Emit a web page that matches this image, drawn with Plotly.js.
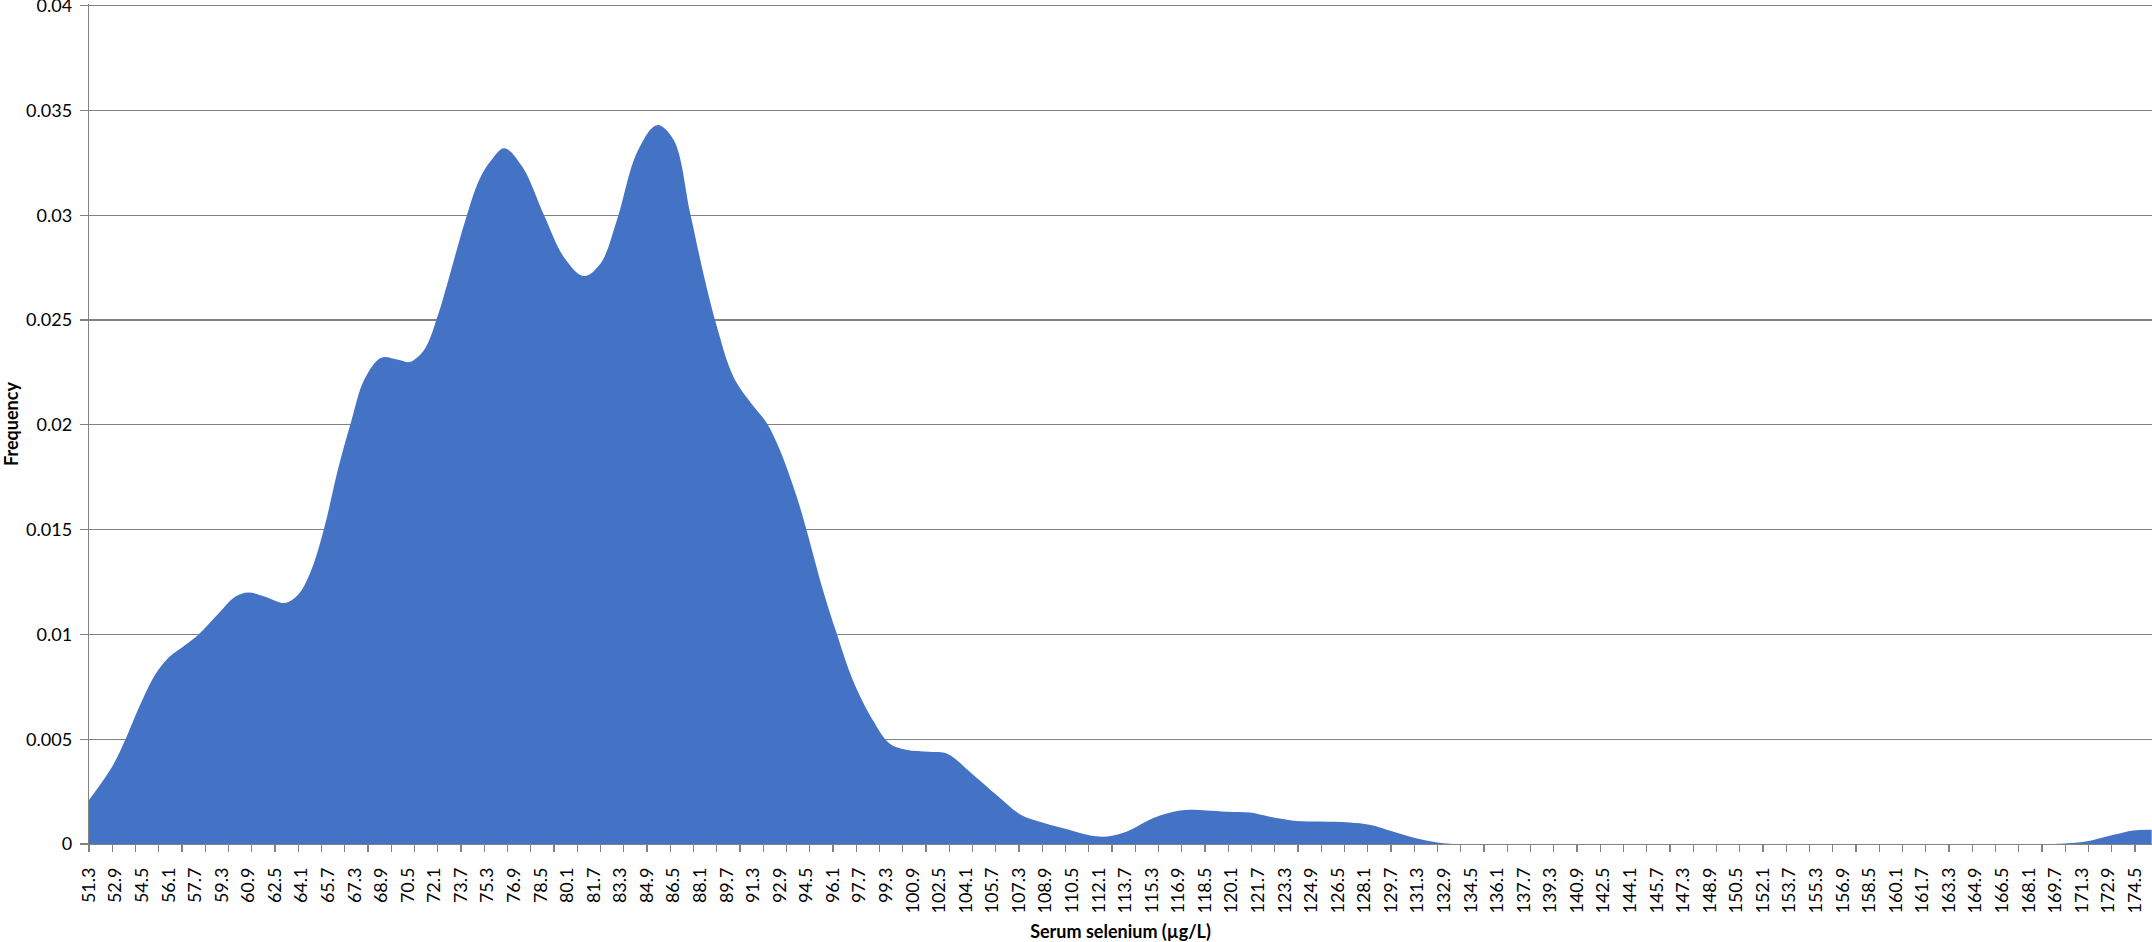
<!DOCTYPE html>
<html>
<head>
<meta charset="utf-8">
<script src="https://cdn.plot.ly/plotly-3.0.1.min.js"></script>
<style>
html,body{margin:0;padding:0;background:#fff;}
#chart{width:2152px;height:942px;}
</style>
</head>
<body>
<div id="chart"></div>
<script>
// Serum selenium (µg/L) sample positions
const serum = [51.3, 52.7, 53.5, 54.3, 55.3, 56.1, 57.1, 57.9, 59.1, 60.1, 60.9, 61.9, 63.1, 63.9,
  64.7, 65.5, 66.3, 67.1, 67.9, 68.9, 69.9, 70.6, 71.5, 72.3, 72.9, 73.9, 74.8, 75.5, 76.3, 77.4,
  78.7, 79.9, 81.1, 82.1, 83.1, 84.3, 85.5, 86.5, 87.5, 88.3, 89.1, 90.1, 91.3, 92.1, 92.9, 93.9,
  94.5, 95.5, 96.3, 97.3, 98.5, 99.5, 100.5, 101.9, 103.0, 104.4, 106.0, 107.4, 108.8, 110.2,
  111.6, 112.6, 113.8, 115.4, 117.0, 118.6, 119.8, 121.2, 122.4, 124.0, 125.4, 127.2, 128.4,
  129.8, 131.2, 132.4, 133.4, 140.0, 150.0, 160.0, 169.7, 170.4, 171.8, 173.2, 174.4, 175.5];
// Frequency (density) at those positions
const frequency = [0.0021, 0.0037, 0.0050, 0.0065, 0.0081, 0.0089, 0.0095, 0.0100, 0.0110, 0.0118,
  0.0120, 0.0118, 0.0115, 0.0119, 0.0131, 0.0152, 0.0179, 0.0202, 0.0222, 0.0232, 0.0231, 0.0230,
  0.0236, 0.0252, 0.0268, 0.0296, 0.0317, 0.0326, 0.0332, 0.0323, 0.0300, 0.0280, 0.0271, 0.0277,
  0.0298, 0.0330, 0.0343, 0.0336, 0.0301, 0.0272, 0.0247, 0.0223, 0.0209, 0.0201, 0.0188, 0.0166,
  0.0150, 0.0121, 0.0101, 0.0078, 0.0059, 0.0048, 0.0045, 0.0044, 0.0043, 0.0034, 0.0023, 0.0014,
  0.0010, 0.0007, 0.0004, 0.00036, 0.0006, 0.00124, 0.0016, 0.0016, 0.00154, 0.0015, 0.0013,
  0.0011, 0.00107, 0.00103, 0.00092, 0.0006, 0.00027, 0.00008, 0, 0, 0, 0, 0, 0.00003, 0.00016,
  0.00044, 0.00065, 0.00068];

// Category tick labels on the x axis
const xLabels = [51.3, 52.9, 54.5, 56.1, 57.7, 59.3, 60.9, 62.5, 64.1, 65.7, 67.3, 68.9, 70.5, 72.1,
  73.7, 75.3, 76.9, 78.5, 80.1, 81.7, 83.3, 84.9, 86.5, 88.1, 89.7, 91.3, 92.9, 94.5, 96.1, 97.7,
  99.3, 100.9, 102.5, 104.1, 105.7, 107.3, 108.9, 110.5, 112.1, 113.7, 115.3, 116.9, 118.5, 120.1,
  121.7, 123.3, 124.9, 126.5, 128.1, 129.7, 131.3, 132.9, 134.5, 136.1, 137.7, 139.3, 140.9, 142.5,
  144.1, 145.7, 147.3, 148.9, 150.5, 152.1, 153.7, 155.3, 156.9, 158.5, 160.1, 161.7, 163.3, 164.9,
  166.5, 168.1, 169.7, 171.3, 172.9, 174.5];
// y tick labels
const yTicks = [0, 0.005, 0.01, 0.015, 0.02, 0.025, 0.03, 0.035, 0.04];
const yTickText = ['0', '0.005', '0.01', '0.015', '0.02', '0.025', '0.03', '0.035', '0.04'];

// tick-mark positions (every 1.4 units)
const markVals = [];
for (let k = 0; k <= 88; k++) markVals.push(Math.round((51.3 + 1.4 * k) * 10) / 10);

const GRAY = '#828282';
const FONT = 'Lato, "Open Sans", sans-serif';
const XR = [51.3, 175.52];

const traces = [
  {
    type: 'scatter', mode: 'lines', x: serum, y: frequency,
    fill: 'tozeroy', fillcolor: '#4472C4',
    line: {color: '#4472C4', width: 0, shape: 'spline', smoothing: 1},
    showlegend: false, hoverinfo: 'x+y'
  },
  {type: 'scatter', mode: 'lines', x: [], y: [], xaxis: 'x2', yaxis: 'y', showlegend: false, hoverinfo: 'skip'}
];

const layout = {
  width: 2152, height: 942,
  margin: {l: 89, r: 0, t: 4, b: 98, pad: 0},
  paper_bgcolor: '#ffffff', plot_bgcolor: '#ffffff',
  font: {family: FONT, size: 18, color: '#000000'},
  showlegend: false,
  xaxis: {
    range: XR, autorange: false,
    tickmode: 'array', tickvals: xLabels, ticktext: xLabels.map(v => v.toFixed(1)),
    tickangle: -90, ticks: 'outside', ticklen: 10, tickcolor: 'rgba(0,0,0,0)',
    ticklabelstandoff: 5,
    tickfont: {family: FONT, size: 18, color: '#000'},
    showgrid: false, zeroline: false,
    showline: true, linecolor: GRAY, linewidth: 1.3,
    title: {text: 'Serum selenium (µg/L)', font: {family: FONT, size: 18, color: '#000', weight: 'bold'}, standoff: 22},
    automargin: false
  },
  xaxis2: {
    overlaying: 'x', anchor: 'y', side: 'bottom',
    range: XR, autorange: false,
    tickmode: 'array', tickvals: markVals, showticklabels: false,
    ticks: 'outside', ticklen: 7, tickwidth: 1.3, tickcolor: GRAY,
    showgrid: false, zeroline: false, showline: false
  },
  yaxis: {
    range: [0, 0.04008], autorange: false,
    tickmode: 'array', tickvals: yTicks, ticktext: yTickText,
    ticks: 'outside', ticklen: 8, tickwidth: 1.3, tickcolor: GRAY,
    ticklabelstandoff: 4, ticklabeloverflow: 'allow',
    tickfont: {family: FONT, size: 18, color: '#000'},
    showgrid: true, gridcolor: GRAY, gridwidth: 1.3,
    zeroline: false, showline: true, linecolor: GRAY, linewidth: 1.3,
    title: {text: 'Frequency', font: {family: FONT, size: 18, color: '#000', weight: 'bold'}, standoff: 10},
    automargin: false
  }
};

Plotly.newPlot('chart', traces, layout, {displayModeBar: false, staticPlot: true});
</script>
</body>
</html>
